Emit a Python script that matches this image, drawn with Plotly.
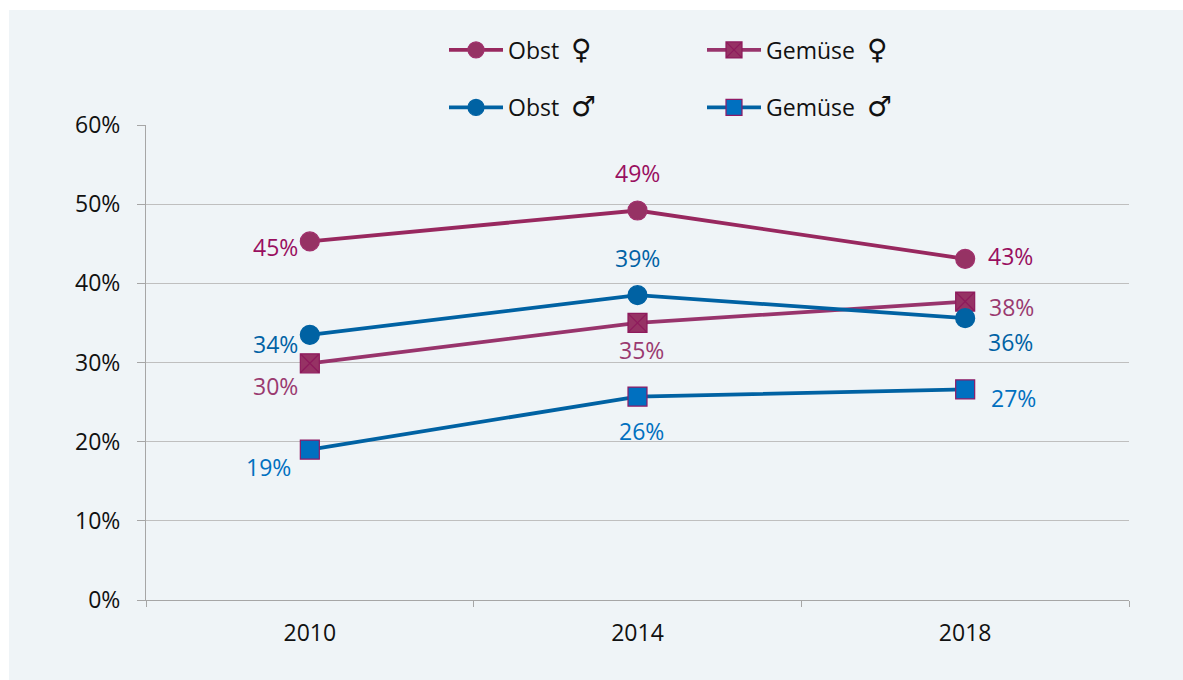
import plotly.graph_objects as go

years = ["2010", "2014", "2018"]
obst_f = [45.3, 49.2, 43.1]
gemuese_f = [29.9, 35.0, 37.7]
obst_m = [33.5, 38.5, 35.6]
gemuese_m = [19.0, 25.7, 26.6]
labels_obst_f = ["45%", "49%", "43%"]
labels_gemuese_f = ["30%", "35%", "38%"]
labels_obst_m = ["34%", "39%", "36%"]
labels_gemuese_m = ["19%", "26%", "27%"]
y_ticks = [0, 10, 20, 30, 40, 50, 60]
FEMALE = '<span style="font-family:DejaVu Sans;font-size:28px">♀</span>'
MALE = '<span style="font-family:DejaVu Sans;font-size:28px">♂</span>'
names = ["Obst  " + FEMALE, "Gemüse  " + FEMALE, "Obst  " + MALE, "Gemüse  " + MALE]

FONT = "Open Sans"
styles = [
    dict(vals=obst_f, labels=labels_obst_f, name=names[0], line="#98285f", fill="#963264", edge="#a0306c",
         symbol="circle", size=19, text="#990f5f", legend="legend",
         shifts=[(-34, -6), (0, 38), (45, 3)]),
    dict(vals=gemuese_f, labels=labels_gemuese_f, name=names[1], line="#98346c", fill="#963264", edge="#8e1a5c",
         symbol="square-x", size=19, text="#9a3a70", legend="legend",
         shifts=[(-34, -23), (4, -27), (46, -5)]),
    dict(vals=obst_m, labels=labels_obst_m, name=names[2], line="#0062a3", fill="#0062a3", edge="#0062a3",
         symbol="circle", size=19, text="#0062a5", legend="legend2",
         shifts=[(-34, -9), (0, 37), (45, -24)]),
    dict(vals=gemuese_m, labels=labels_gemuese_m, name=names[3], line="#0062a3", fill="#0070c0", edge="#8e1a66",
         symbol="square", size=19, text="#0070c0", legend="legend2",
         shifts=[(-41, -17), (4, -34), (48, -9)]),
]

fig = go.Figure()
annotations = []
for s in styles:
    fig.add_trace(go.Scatter(
        x=years, y=s["vals"], name=s["name"], mode="lines+markers", legend=s["legend"],
        line=dict(color=s["line"], width=3.8),
        marker=dict(symbol=s["symbol"], size=s["size"], color=s["fill"],
                    line=dict(color=s["edge"], width=1.2)),
        hoverinfo="skip",
    ))
    for i, (yv, lab, (dx, dy)) in enumerate(zip(s["vals"], s["labels"], s["shifts"])):
        annotations.append(dict(x=i, y=yv, xref="x", yref="y", text=lab, showarrow=False,
                                xshift=dx, yshift=dy,
                                font=dict(family=FONT, size=23, color=s["text"])))

W, H, L, R, T, B = 1183, 680, 146, 54, 125, 80
px = lambda v: (v - L) / (W - L - R)
py = lambda v: 1 - (v - T) / (H - T - B)
legend_common = dict(orientation="h", xanchor="left", yanchor="middle", x=px(444),
                     entrywidth=189, entrywidthmode="pixels", itemwidth=54,
                     bgcolor="rgba(0,0,0,0)", font=dict(family=FONT, size=23, color="#111111"),
                     traceorder="normal", itemclick=False, itemdoubleclick=False)

fig.update_layout(
    width=W, height=H, autosize=False,
    margin=dict(l=L, r=R, t=T, b=B, pad=0),
    paper_bgcolor="white", plot_bgcolor="rgba(0,0,0,0)",
    font=dict(family=FONT, size=23, color="#111111"),
    showlegend=True,
    legend=dict(y=py(50), **legend_common),
    legend2=dict(y=py(107.5), **legend_common),
    xaxis=dict(type="category", categoryorder="array", categoryarray=years, range=[-0.5, 2.5],
               tickson="boundaries", ticks="outside", ticklen=6, tickcolor="#a6a6a6", tickwidth=1,
               showline=True, linecolor="#a6a6a6", linewidth=1, showgrid=False, zeroline=False,
               ticklabelstandoff=12,
               tickfont=dict(family=FONT, size=23, color="#111111"), fixedrange=True),
    yaxis=dict(range=[0, 60], tickvals=y_ticks, ticktext=[f"{v}%" for v in y_ticks],
               ticks="outside", ticklen=8, tickcolor="#a6a6a6", tickwidth=1,
               showline=True, linecolor="#a6a6a6", linewidth=1,
               showgrid=True, gridcolor="#bfbfbf", gridwidth=1, zeroline=False,
               ticklabelstandoff=12,
               tickfont=dict(family=FONT, size=23, color="#111111"), fixedrange=True),
    annotations=annotations,
    shapes=[dict(type="rect", xref="paper", yref="paper", layer="below",
                 x0=px(9), x1=px(1183), y0=py(680), y1=py(10),
                 fillcolor="#eff4f7", line=dict(width=0))],
)
fig.write_html("out.html", config=dict(displayModeBar=False),
               post_script="document.body.style.margin='0';document.body.style.overflow='hidden';")
